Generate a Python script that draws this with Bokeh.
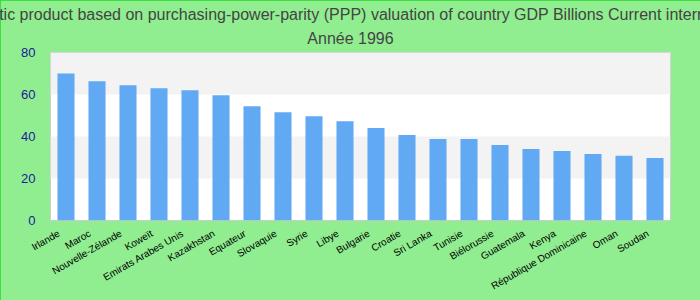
import math
from bokeh.plotting import figure
from bokeh.models import ColumnDataSource, BoxAnnotation, FixedTicker, LinearAxis, Title
from bokeh.embed import file_html
from bokeh.resources import INLINE

countries = ["Irlande", "Maroc", "Nouvelle-Zélande", "Koweït", "Emirats Arabes Unis",
             "Kazakhstan", "Equateur", "Slovaquie", "Syrie", "Libye", "Bulgarie",
             "Croatie", "Sri Lanka", "Tunisie", "Biélorussie", "Guatemala", "Kenya",
             "République Dominicaine", "Oman", "Soudan"]
values = [70.0, 66.3, 64.4, 63.0, 62.0, 59.6, 54.4, 51.6, 49.7, 47.3, 44.0,
          40.7, 38.8, 38.8, 36.0, 34.1, 33.1, 31.7, 30.8, 29.8]
y_ticks = [0, 20, 40, 60, 80]
title_line1 = ("Gross domestic product based on purchasing-power-parity (PPP) valuation "
               "of country GDP Billions Current international dollar")
title_line2 = "Année 1996"

W, H = 700, 300
LEFT, RIGHT, TOP, BOTTOM = 50, 30, 51, 80
n = len(countries)
centers = [i + 0.5 for i in range(n)]
label_pos = [i + 0.27 for i in range(n)]  # label anchor slightly left of bar centre
# data x that falls at the horizontal centre of the whole canvas
title_x = (W / 2 - LEFT) / ((W - LEFT - RIGHT) / n)
# the long first line (approx. 893 px wide at 16px Liberation Sans) is left-aligned
# so that it is centred on the canvas and clipped equally at both sides
TITLE1_WIDTH = 893
title1_offset = (W / 2 - TITLE1_WIDTH / 2) - LEFT

src = ColumnDataSource(dict(x=centers, top=values))

p = figure(x_range=(0, n), y_range=(0, 80), width=W, height=H,
           output_backend="svg", toolbar_location=None,
           min_border_left=LEFT, min_border_right=RIGHT,
           min_border_top=TOP, min_border_bottom=BOTTOM)

p.background_fill_color = "white"
p.border_fill_color = "#90ee90"
p.outline_line_color = "#cccccc"
p.outline_line_width = 1

for lo, hi in [(20, 40), (60, 80)]:
    p.add_layout(BoxAnnotation(bottom=lo, top=hi, fill_color="#f3f3f3", fill_alpha=1,
                               line_alpha=0, level="underlay"))

p.vbar(x="x", top="top", width=0.55, source=src, fill_color="#62a9f4", line_color=None)

p.xgrid.visible = False
p.ygrid.visible = False

p.yaxis.ticker = FixedTicker(ticks=y_ticks)
p.yaxis.axis_line_color = None
p.yaxis.major_tick_line_color = None
p.yaxis.minor_tick_line_color = None
p.yaxis.major_label_text_color = "#1a1a99"
p.yaxis.major_label_text_font = "Liberation Sans"
p.yaxis.major_label_text_font_size = "13px"
p.yaxis.major_label_standoff = 9

p.xaxis.ticker = FixedTicker(ticks=label_pos)
p.xaxis.major_label_overrides = {t: c for t, c in zip(label_pos, countries)}
p.xaxis.axis_line_color = None
p.xaxis.major_tick_line_color = None
p.xaxis.minor_tick_line_color = None
p.xaxis.major_label_orientation = math.pi / 6
p.xaxis.major_label_text_font = "Liberation Sans"
p.xaxis.major_label_text_font_size = "10px"
p.xaxis.major_label_text_color = "black"
p.xaxis.major_label_standoff = 6

p.title.visible = False
# second title line: an above-axis with one tick at the canvas centre
ax = LinearAxis(ticker=FixedTicker(ticks=[title_x]),
                major_label_overrides={title_x: title_line2})
ax.axis_line_color = None
ax.major_tick_line_color = None
ax.minor_tick_line_color = None
ax.major_tick_out = 0
ax.major_label_standoff = 6
ax.major_label_text_font = "Liberation Sans"
ax.major_label_text_font_size = "16px"
ax.major_label_text_color = "#444444"
p.add_layout(ax, "above")

# first title line
t1 = Title(text=title_line1, align="left", offset=title1_offset, standoff=7,
           text_font="Liberation Sans", text_font_size="16px",
           text_font_style="normal", text_color="#444444")
p.add_layout(t1, "above")

p.styles = {"outline": "1px solid #22dd22", "outline-offset": "-1px"}

open("out.html", "w").write(file_html(p, INLINE))
